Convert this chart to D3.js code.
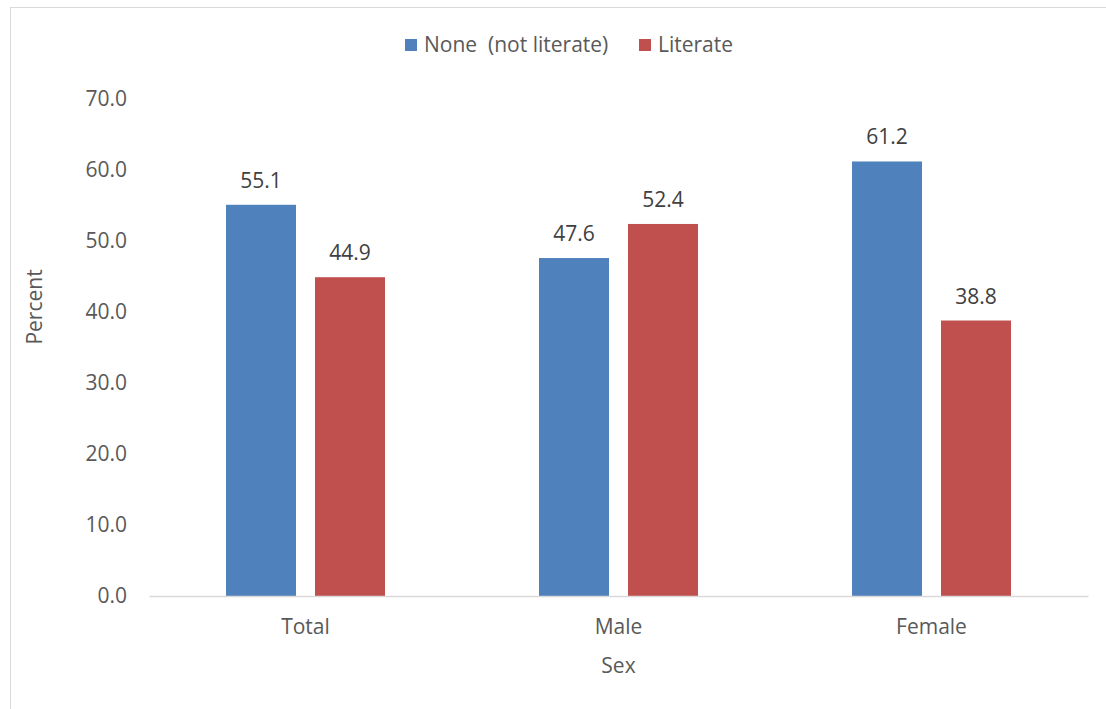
<!DOCTYPE html>
<html>
<head>
<meta charset="utf-8">
<script src="https://cdn.jsdelivr.net/npm/d3@7"></script>
<style>
  body { margin: 0; background: #fff; }
  text { font-family: "Open Sans", sans-serif; fill: #595959; }
</style>
</head>
<body>
<div id="chart"></div>
<script>
// data
let categories = ["Total", "Male", "Female"];
let seriesNames = ["None  (not literate)", "Literate"];
let noneValues = [55.1, 47.6, 61.2];
let literateValues = [44.9, 52.4, 38.8];
let yTicks = [0, 10, 20, 30, 40, 50, 60, 70];
let colors = ["#4F81BD", "#C0504D"];

let width = 1106, height = 709;
let margin = {left: 149, right: 18, top: 99, bottom: 113};

let svg = d3.select("#chart")
    .append("svg")
    .attr("width", width)
    .attr("height", height);

// chart frame
svg.append("rect")
    .attr("x", 10.5).attr("y", 7.5)
    .attr("width", width).attr("height", height)
    .attr("fill", "none")
    .attr("stroke", "#d9d9d9");

let x0 = d3.scaleBand()
    .domain(categories)
    .range([margin.left, width - margin.right])
    .paddingInner(0.492)
    .paddingOuter(0.246);

let x1 = d3.scaleBand()
    .domain(seriesNames)
    .range([0, x0.bandwidth()])
    .paddingInner(0.2135);

let y = d3.scaleLinear()
    .domain([0, 70])
    .range([height - margin.bottom, margin.top]);

// y axis labels (no line)
let yAxis = svg.append("g")
    .attr("transform", `translate(${margin.left}, 0)`)
    .call(d3.axisLeft(y).tickValues(yTicks).tickSize(0).tickPadding(22).tickFormat(d3.format(".1f")));
yAxis.select(".domain").remove();
yAxis.selectAll("text").style("font-size", "21px").style("fill", "#595959").attr("font-family", null);

// rows of bars
let rows = categories.map(function(c, i) {
    return [
        {cat: c, series: seriesNames[0], value: noneValues[i], color: colors[0]},
        {cat: c, series: seriesNames[1], value: literateValues[i], color: colors[1]}
    ];
});
let flat = [].concat.apply([], rows);

svg.append("g").selectAll("rect")
    .data(flat)
    .enter()
    .append("rect")
    .attr("x", function(d) { return x0(d.cat) + x1(d.series); })
    .attr("y", function(d) { return y(d.value); })
    .attr("width", x1.bandwidth())
    .attr("height", function(d) { return y(0) - y(d.value); })
    .attr("fill", function(d) { return d.color; });

// value labels
svg.append("g").selectAll("text")
    .data(flat)
    .enter()
    .append("text")
    .attr("x", function(d) { return x0(d.cat) + x1(d.series) + x1.bandwidth() / 2; })
    .attr("y", function(d) { return y(d.value) - 17; })
    .style("text-anchor", "middle")
    .style("font-size", "21px")
    .style("fill", "#404040")
    .text(function(d) { return d.value.toFixed(1); });

// x axis
let xAxis = svg.append("g")
    .attr("transform", `translate(0, ${y(0)})`)
    .call(d3.axisBottom(x0).tickSize(0).tickPadding(23));
xAxis.select(".domain").attr("stroke", "#d9d9d9").attr("stroke-width", 1.5);
xAxis.selectAll("text").style("font-size", "21px").style("fill", "#595959").attr("font-family", null);

// axis titles
svg.append("text")
    .attr("x", (margin.left + width - margin.right) / 2)
    .attr("y", 673)
    .style("text-anchor", "middle")
    .style("font-size", "21px")
    .text("Sex");

svg.append("text")
    .attr("transform", `translate(42, 307) rotate(-90)`)
    .style("text-anchor", "middle")
    .style("font-size", "21px")
    .text("Percent");

// legend
let legendX = [405, 639];
let legend = svg.append("g").selectAll("g")
    .data(seriesNames)
    .enter()
    .append("g")
    .attr("transform", function(d, i) { return `translate(${legendX[i]}, 39)`; });
legend.append("rect")
    .attr("width", 12).attr("height", 12)
    .attr("fill", function(d, i) { return colors[i]; });
legend.append("text")
    .attr("x", 19)
    .attr("y", 13)
    .style("font-size", "21px")
    .style("white-space", "pre")
    .attr("xml:space", "preserve")
    .text(function(d) { return d; });
</script>
</body>
</html>
